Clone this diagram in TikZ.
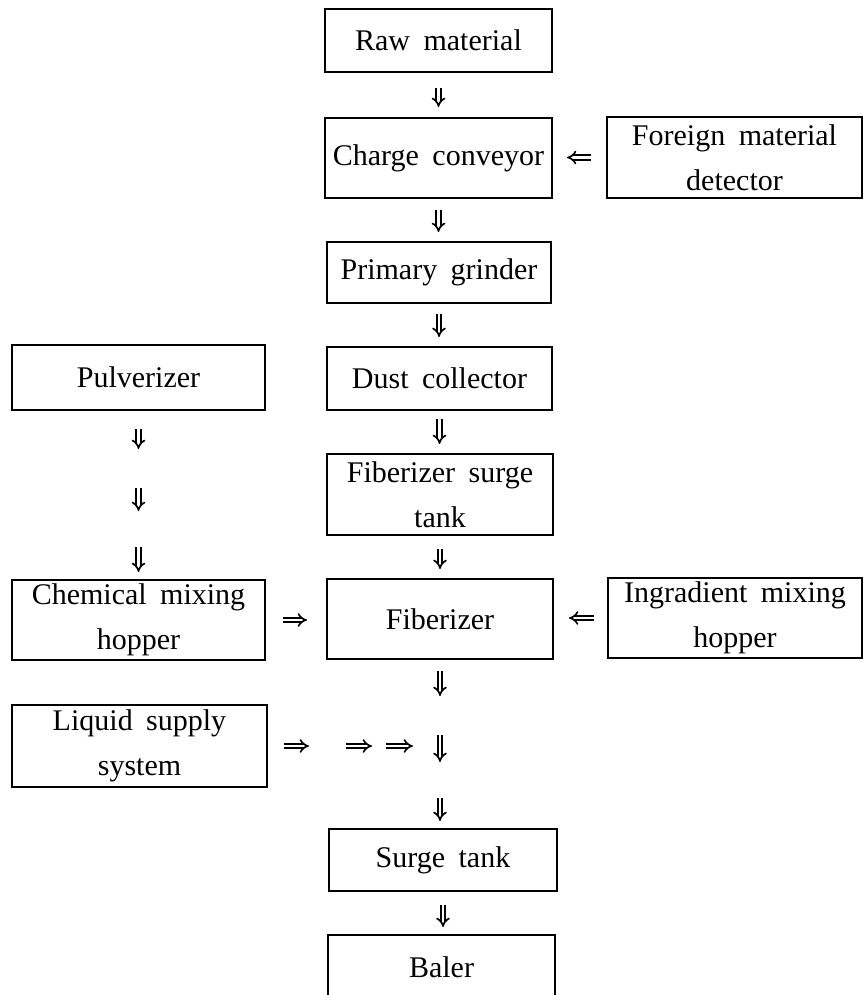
\documentclass[tikz,border=0pt]{standalone}
\usepackage{fontspec}
\setmainfont{Liberation Serif}
\usetikzlibrary{arrows.meta}
\newcommand\myboxfont{\fontsize{15}{22.5}\selectfont\spaceskip=0.45em plus 0.1em minus 0.05em\relax}
\begin{document}
\begin{tikzpicture}[x=0.5pt,y=-0.5pt,
  box/.style={draw, line width=1pt, align=center, inner sep=0pt, font=\myboxfont},
  dar/.style={line width=0.85pt, double distance=1.4pt, -{Implies[length=4pt, width=7pt]}},
]
\useasboundingbox (0,0) rectangle (865,995);
\clip (0,0) rectangle (865,995);
% boxes
\node[box, minimum width=113.5pt, minimum height=31.5pt] (raw) at (438.5,40.5) {Raw material};
\node[box, minimum width=113.5pt, minimum height=40pt] (charge) at (438.5,158) {Charge conveyor};
\node[box, minimum width=127.5pt, minimum height=40.5pt] (foreign) at (734.5,157.5) {Foreign material\\detector};
\node[box, minimum width=112pt, minimum height=30.5pt] (primary) at (439,272.5) {Primary grinder};
\node[box, minimum width=126.5pt, minimum height=32.5pt] (pulv) at (138.5,377.5) {Pulverizer};
\node[box, minimum width=112.5pt, minimum height=31.5pt] (dust) at (439.5,378.5) {Dust collector};
\node[box, minimum width=113pt, minimum height=40.5pt] (fst) at (440,494.5) {Fiberizer surge\\tank};
\node[box, minimum width=126.5pt, minimum height=40pt] (chem) at (138.5,620) {Chemical mixing\\hopper};
\node[box, minimum width=113pt, minimum height=40pt] (fib) at (440,619) {Fiberizer};
\node[box, minimum width=127pt, minimum height=40pt] (ingr) at (735,618) {Ingradient mixing\\hopper};
\node[box, minimum width=127.5pt, minimum height=41pt] (liquid) at (139.5,746) {Liquid supply\\system};
\node[box, minimum width=114pt, minimum height=31pt] (surge) at (443,860) {Surge tank};
\node[box, minimum width=113.5pt, minimum height=32pt] (baler) at (441.5,967) {Baler};
% free arrow ends
\coordinate (pm1) at (138.5,449);
\coordinate (pm2a) at (138.5,488);
\coordinate (pm2b) at (138.5,511);
\coordinate (pm3) at (138.5,547);
\coordinate (f1) at (440,696);
\coordinate (f2a) at (440,735);
\coordinate (f2b) at (440,762);
\coordinate (f3) at (440,798);
\coordinate (l1) at (309,746);
\coordinate (l2a) at (346,746);
\coordinate (l2b) at (372,746);
\coordinate (l3a) at (386,746);
\coordinate (l3b) at (413,746);
% main column
\draw[dar, shorten <=7.5pt, shorten >=5pt] (raw.south) -- (charge.north);
\draw[dar, shorten <=5.5pt, shorten >=4.5pt] (charge.south) -- (charge.south |- primary.north);
\draw[dar, shorten <=5pt, shorten >=4.5pt] (primary.south) -- (primary.south |- dust.north);
\draw[dar, shorten <=4pt, shorten >=4.5pt] (dust.south) -- (dust.south |- fst.north);
\draw[dar, shorten <=6.5pt, shorten >=4.5pt] (fst.south) -- (fib.north);
\draw[dar, shorten <=5.5pt] (fib.south) -- (f1);
\draw[dar] (f2a) -- (f2b);
\draw[dar, shorten >=3.5pt] (f3) -- (f3 |- surge.north);
\draw[dar, shorten <=6.5pt, shorten >=3.5pt] (surge.south) -- (surge.south |- baler.north);
% side inputs
\draw[dar, shorten <=7.5pt, shorten >=7pt] (foreign.west) -- (foreign.west -| charge.east);
\draw[dar, shorten <=8.5pt, shorten >=9.5pt] (chem.east) -- (chem.east -| fib.west);
\draw[dar, shorten <=6.5pt, shorten >=7.5pt] (ingr.west) -- (ingr.west -| fib.east);
% pulverizer column
\draw[dar, shorten <=9pt] (pulv.south) -- (pm1);
\draw[dar] (pm2a) -- (pm2b);
\draw[dar, shorten >=3.5pt] (pm3) -- (chem.north);
% liquid supply
\draw[dar, shorten <=8pt] (liquid.east) -- (l1);
\draw[dar] (l2a) -- (l2b);
\draw[dar] (l3a) -- (l3b);
\end{tikzpicture}
\end{document}
